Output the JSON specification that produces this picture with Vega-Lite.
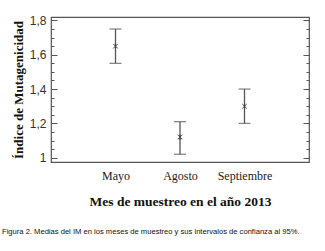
{
  "$schema": "https://vega.github.io/schema/vega-lite/v6.json",
  "width": 258,
  "height": 145,
  "autosize": "none",
  "padding": {"left": 51, "top": 17, "right": 16, "bottom": 89},
  "background": "white",
  "config": {
    "view": {"stroke": "#555", "strokeWidth": 1.2},
    "axis": {"domain": false, "grid": false}
  },
  "title": {
    "text": "Figura 2. Medias del IM en los meses de muestreo y sus intervalos de confianza al 95%.",
    "orient": "bottom",
    "anchor": "start",
    "frame": "group",
    "dx": -49,
    "offset": 20,
    "font": "Liberation Sans",
    "fontSize": 7.6,
    "fontWeight": "normal",
    "color": "#111"
  },
  "data": {
    "values": [
      {"mes": "Mayo", "media": 1.65, "inf": 1.55, "sup": 1.75},
      {"mes": "Agosto", "media": 1.12, "inf": 1.02, "sup": 1.21},
      {"mes": "Septiembre", "media": 1.3, "inf": 1.2, "sup": 1.4}
    ]
  },
  "encoding": {
    "x": {
      "field": "mes",
      "type": "nominal",
      "sort": ["Mayo", "Agosto", "Septiembre"],
      "scale": {"type": "point", "padding": 1.13},
      "axis": {
        "title": "Mes de muestreo en el año 2013",
        "titleFont": "Liberation Serif",
        "titleFontSize": 13.5,
        "titleFontWeight": "bold",
        "titleColor": "#111",
        "titlePadding": 13,
        "labelFont": "Liberation Serif",
        "labelFontSize": 12,
        "labelColor": "#222",
        "labelAngle": 0,
        "labelPadding": 8,
        "ticks": false
      }
    }
  },
  "layer": [
    {
      "mark": {"type": "rule", "color": "#555", "strokeWidth": 1.3},
      "encoding": {
        "y": {
          "field": "inf",
          "type": "quantitative",
          "scale": {"domain": [0.975, 1.82], "nice": false, "zero": false},
          "axis": {
            "orient": "left",
            "title": "Índice de Mutagenicidad",
            "titleFont": "Liberation Serif",
            "titleFontSize": 13,
            "titleFontWeight": "bold",
            "titleColor": "#111",
            "titlePadding": 4,
            "values": [1, 1.05, 1.1, 1.15, 1.2, 1.25, 1.3, 1.35, 1.4, 1.45, 1.5, 1.55, 1.6, 1.65, 1.7, 1.75, 1.8],
            "labelExpr": "abs(datum.value*5 - round(datum.value*5)) > 0.001 ? '' : (datum.value == 1 ? '1' : replace(format(datum.value, '.1f'), '.', ','))",
            "labelFont": "Liberation Sans",
            "labelFontSize": 12,
            "labelColor": "#333",
            "tickColor": "#555",
            "tickSize": {"condition": {"test": "abs(datum.value*5 - round(datum.value*5)) < 0.001", "value": -6}, "value": -3},
            "labelPadding": 11
          }
        },
        "y2": {"field": "sup"}
      }
    },
    {
      "mark": {"type": "tick", "orient": "horizontal", "color": "#555", "size": 12, "thickness": 1.3},
      "encoding": {
        "y": {
          "field": "inf",
          "type": "quantitative",
          "scale": {"domain": [0.975, 1.82], "nice": false, "zero": false},
          "axis": {
            "orient": "right",
            "title": null,
            "values": [1, 1.05, 1.1, 1.15, 1.2, 1.25, 1.3, 1.35, 1.4, 1.45, 1.5, 1.55, 1.6, 1.65, 1.7, 1.75, 1.8],
            "labels": false,
            "tickColor": "#555",
            "tickSize": {"condition": {"test": "abs(datum.value*5 - round(datum.value*5)) < 0.001", "value": -6}, "value": -3}
          }
        }
      }
    },
    {
      "mark": {"type": "tick", "orient": "horizontal", "color": "#555", "size": 12, "thickness": 1.3},
      "encoding": {
        "y": {"field": "sup", "type": "quantitative", "scale": {"domain": [0.975, 1.82], "nice": false, "zero": false}, "axis": null}
      }
    },
    {
      "mark": {"type": "point", "shape": "M-1,-1L1,1M1,-1L-1,1M0,-1.3L0,1.3", "filled": false, "color": "#444", "strokeWidth": 1, "size": 20, "opacity": 1},
      "encoding": {
        "y": {"field": "media", "type": "quantitative", "scale": {"domain": [0.975, 1.82], "nice": false, "zero": false}, "axis": null}
      }
    }
  ],
  "resolve": {"axis": {"y": "independent"}}
}
